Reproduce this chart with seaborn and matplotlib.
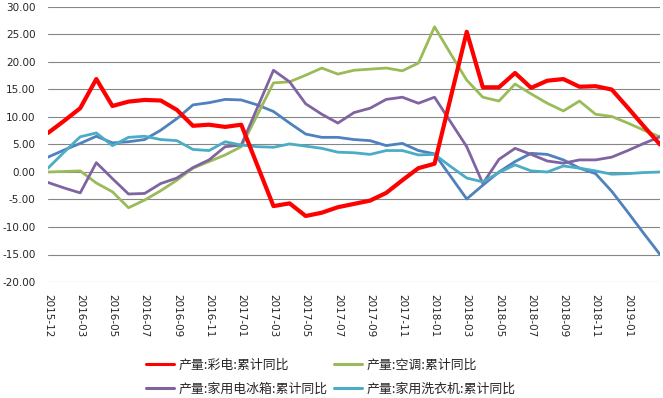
import matplotlib
matplotlib.use("Agg")
import matplotlib.pyplot as plt
from matplotlib.ticker import FuncFormatter
from matplotlib.lines import Line2D
import seaborn as sns
import pandas as pd

categories = (["2015-12"] + [f"2016-{m:02d}" for m in range(2, 13)]
              + [f"2017-{m:02d}" for m in range(1, 13)]
              + [f"2018-{m:02d}" for m in range(1, 13)]
              + [f"2019-{m:02d}" for m in range(1, 4)])

tv = [7.1, 9.3, 11.6, 16.9, 12.0, 12.8, 13.1, 13.0, 11.3, 8.4, 8.6, 8.2, 8.6, 1.2,
      -6.2, -5.7, -8.0, -7.4, -6.4, -5.8, -5.2, -3.8, -1.5, 0.7, 1.5, 13.5, 25.5,
      15.4, 15.4, 18.0, 15.3, 16.6, 16.9, 15.5, 15.6, 15.0, 11.7, 8.3, 5.0]
ac = [0.0, 0.1, 0.2, -2.0, -3.6, -6.5, -5.1, -3.4, -1.5, 0.7, 1.9, 3.1, 4.6, 10.4,
      16.2, 16.4, 17.6, 18.9, 17.8, 18.5, 18.7, 18.9, 18.4, 19.8, 26.4, 21.5, 16.7,
      13.6, 12.9, 16.0, 14.2, 12.5, 11.1, 12.9, 10.5, 10.1, 8.9, 7.6, 6.4]
fridge = [-1.9, -2.9, -3.8, 1.7, -1.2, -4.0, -3.9, -2.1, -1.1, 0.8, 2.2, 4.6, 4.9, 11.7,
          18.5, 16.4, 12.4, 10.5, 8.9, 10.8, 11.6, 13.2, 13.6, 12.5, 13.6, 9.1, 4.6,
          -2.1, 2.3, 4.3, 3.2, 2.0, 1.6, 2.2, 2.2, 2.7, 3.9, 5.2, 6.4]
washer = [0.7, 3.6, 6.4, 7.1, 4.8, 6.3, 6.5, 5.9, 5.7, 4.1, 3.9, 5.5, 4.9, 4.6,
          4.5, 5.1, 4.7, 4.3, 3.6, 3.5, 3.2, 3.9, 3.9, 3.1, 3.2, 1.0, -1.1,
          -1.8, -0.1, 1.3, 0.2, 0.0, 1.1, 0.7, 0.2, -0.4, -0.3, -0.1, 0.0]
other = [2.7, 4.0, 5.2, 6.5, 5.3, 5.5, 5.9, 7.6, 9.7, 12.2, 12.6, 13.2, 13.1, 12.2,
         11.0, 8.9, 6.9, 6.3, 6.3, 5.9, 5.7, 4.8, 5.2, 3.9, 3.3, -0.8, -4.9,
         -2.4, 0.0, 1.9, 3.4, 3.2, 2.2, 0.7, -0.3, -3.5, -7.3, -11.2, -15.0]

names = ["产量:彩电:累计同比", "产量:空调:累计同比",
         "产量:家用电冰箱:累计同比", "产量:家用洗衣机:累计同比"]
colors = ["#FF0000", "#9BBB59", "#8064A2", "#4BACC6"]
other_color = "#4F81BD"

sns.set_theme(style="white")
plt.rcParams['font.family'] = ['DejaVu Sans']

fig = plt.figure(figsize=(6.63, 3.98), dpi=100)
ax = fig.add_axes([48/663, (398-282)/398, (660-48)/663, (282-7)/398])

x = list(range(len(categories)))
sns.lineplot(x=x, y=other, ax=ax, color=other_color, linewidth=2.0, legend=False, zorder=2)
series = [(tv, 3.0, 6), (ac, 2.0, 3), (fridge, 2.0, 4), (washer, 2.0, 5)]
for (vals, lw, z), c in zip(series, colors):
    sns.lineplot(x=x, y=vals, ax=ax, color=c, linewidth=lw, legend=False, zorder=z)

ax.set_xlim(0, len(categories) - 1)
ax.set_ylim(-20, 30)
ax.set_yticks(range(-20, 31, 5))
ax.yaxis.set_major_formatter(FuncFormatter(lambda v, p: f"{v:.2f}"))
ax.set_xticks(x[:37:2])
ax.set_xticklabels(categories[:37:2], rotation=270, fontsize=7.5)
ax.tick_params(axis='y', labelsize=7.5, length=0, pad=9)
ax.tick_params(axis='x', length=0, pad=9)
ax.grid(axis='y', color='#868686', linewidth=0.8)
ax.grid(axis='x', visible=False)
for s in ax.spines.values():
    s.set_visible(False)
ax.set_axisbelow(True)
ax.set_xlabel("")
ax.set_ylabel("")

handles = [Line2D([], [], color=c, linewidth=2.2) for c in colors]
order = [0, 2, 1, 3]
fig.legend([handles[i] for i in order], [names[i] for i in order], ncol=2, loc='upper left',
           bbox_to_anchor=(146/663, 1 - 359/398), frameon=False,
           prop={'family': ['Noto Sans CJK SC', 'DejaVu Sans'], 'size': 9.3},
           handlelength=2.2, handletextpad=0.3, columnspacing=0.5,
           labelspacing=0.85, borderpad=0, borderaxespad=0)

fig.savefig("out.png", dpi=100)
